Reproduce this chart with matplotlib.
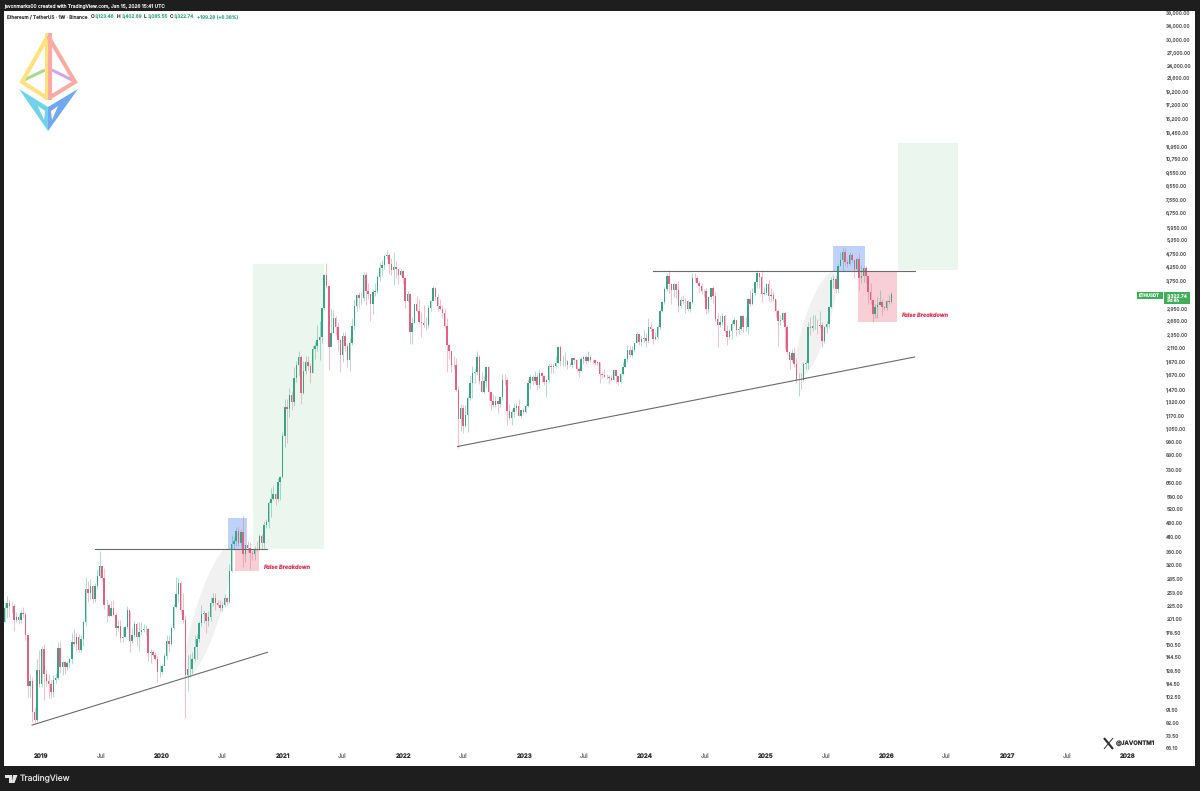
# IMPORTS
import numpy as np
import pandas as pd
import matplotlib
matplotlib.use('Agg')
import matplotlib.pyplot as plt
import matplotlib.dates as mdates
from matplotlib.patches import Ellipse, Polygon, Rectangle
from matplotlib.transforms import Affine2D, IdentityTransform

plt.rcParams['font.family'] = ['Inter', 'DejaVu Sans']
# the labels are tiny, hinting breaks the digits
plt.rcParams['text.hinting'] = 'no_hinting'
plt.rcParams['text.hinting_factor'] = 1

# weekly candles, ETHUSDT, one row = ten weeks, first week is 2018-09-10
first_week = '2018-09-10'
first_open = 197

closes = [
    222, 232, 225, 226, 200, 205, 200, 212, 210, 175,
    113, 118, 90, 84, 130, 115, 155, 125, 118, 115,
    107, 119, 121, 157, 133, 139, 133, 138, 142, 165,
    162, 172, 154, 169, 197, 262, 252, 268, 240, 268,
    293, 318, 288, 227, 228, 206, 222, 208, 186, 190,
    171, 172, 188, 217, 166, 176, 193, 172, 180, 183,
    184, 184, 150, 151, 148, 142, 127, 127, 134, 146,
    167, 162, 187, 223, 249, 274, 218, 200, 124, 131,
    131, 143, 158, 170, 194, 211, 212, 198, 205, 231,
    242, 232, 228, 221, 227, 241, 233, 305, 386, 395,
    432, 387, 428, 353, 380, 371, 355, 353, 370, 365,
    414, 388, 454, 464, 550, 570, 595, 568, 655, 685,
    975, 1260, 1230, 1390, 1310, 1610, 1800, 1930, 1420, 1720,
    1850, 1790, 1690, 2070, 2130, 2240, 2300, 2950, 3925, 3580,
    2100, 2380, 2710, 2510, 2245, 1975, 2320, 2130, 1890, 2190,
    2530, 3010, 3310, 3225, 3225, 3940, 3410, 3330, 3060, 3380,
    3410, 3850, 4170, 4290, 4620, 4650, 4320, 4090, 4200, 4130,
    3920, 4065, 3830, 3150, 3330, 2400, 2600, 3050, 2870, 2620,
    2600, 2550, 2560, 2950, 3140, 3520, 3260, 3000, 2920, 2830,
    2520, 2140, 2040, 1810, 1800, 1450, 1130, 1240, 1070, 1170,
    1355, 1550, 1680, 1700, 1935, 1575, 1430, 1575, 1780, 1430,
    1320, 1280, 1320, 1290, 1370, 1590, 1580, 1215, 1140, 1205,
    1240, 1265, 1165, 1220, 1200, 1265, 1550, 1630, 1570, 1630,
    1515, 1685, 1640, 1565, 1580, 1790, 1780, 1795, 1830, 2105,
    1865, 1870, 1875, 1800, 1810, 1910, 1890, 1750, 1720, 1905,
    1930, 1865, 1930, 1890, 1880, 1835, 1850, 1665, 1650, 1630,
    1630, 1620, 1590, 1730, 1635, 1555, 1665, 1780, 1895, 2050,
    1960, 2060, 2190, 2350, 2195, 2265, 2280, 2220, 2510, 2455,
    2265, 2290, 2505, 2880, 3110, 3490, 3890, 3640, 3450, 3645,
    3450, 3010, 3160, 3130, 3140, 2930, 3120, 3825, 3810, 3680,
    3560, 3420, 3430, 2930, 3245, 3510, 3270, 2690, 2555, 2610,
    2745, 2425, 2295, 2415, 2580, 2660, 2440, 2470, 2750, 2510,
    2510, 3180, 3070, 3360, 3700, 4000, 3875, 3330, 3350, 3630,
    3270, 3310, 3180, 2880, 2630, 2660, 2820, 2510, 2020, 1890,
    2000, 1820, 1580, 1590, 1580, 1820, 1840, 2510, 2480, 2530,
    2530, 2520, 2540, 2230, 2500, 2570, 2970, 3760, 3790, 3490,
    4260, 4470, 4780, 4390, 4310, 4670, 4460, 4140, 4510, 3830,
    3890, 4160, 3880, 3400, 3160, 2800, 2990, 3040, 3110, 2980,
    2950, 3140, 3123.46, 3322.74,
]
highs = [
    232, 245, 240, 234, 230, 214, 211, 218, 224, 214,
    176, 125, 122, 94, 142, 154, 160, 162, 130, 125,
    119, 124, 126, 165, 167, 140, 140, 140, 144, 178,
    185, 178, 177, 176, 200, 289, 280, 285, 269, 276,
    311, 362, 318, 313, 240, 232, 236, 238, 213, 200,
    199, 188, 190, 225, 216, 186, 198, 197, 197, 197,
    193, 192, 186, 156, 154, 151, 146, 135, 136, 150,
    176, 175, 190, 229, 289, 288, 280, 252, 208, 147,
    149, 152, 175, 177, 198, 227, 218, 206, 215, 243,
    253, 252, 238, 238, 233, 250, 243, 325, 416, 410,
    446, 445, 439, 488, 385, 396, 390, 363, 378, 395,
    420, 420, 468, 476, 560, 623, 635, 600, 680, 690,
    1010, 1350, 1350, 1475, 1440, 1770, 1875, 2040, 1970, 1870,
    1945, 1950, 1830, 2150, 2200, 2545, 2645, 2950, 3950, 4372,
    3590, 2920, 2890, 2750, 2620, 2280, 2410, 2410, 2190, 2280,
    2700, 3180, 3330, 3400, 3380, 4025, 4030, 3680, 3200, 3490,
    3680, 3970, 4375, 4460, 4670, 4868, 4760, 4550, 4780, 4420,
    4060, 4150, 4100, 3850, 3420, 3370, 2730, 3070, 3280, 3200,
    2850, 3040, 2730, 3040, 3170, 3580, 3550, 3320, 3180, 3030,
    2960, 2720, 2160, 2040, 1950, 1920, 1500, 1290, 1280, 1280,
    1380, 1650, 1790, 1750, 2030, 1960, 1700, 1650, 1790, 1790,
    1390, 1400, 1380, 1340, 1380, 1670, 1670, 1620, 1290, 1230,
    1300, 1300, 1350, 1230, 1245, 1290, 1600, 1675, 1650, 1720,
    1680, 1740, 1700, 1660, 1605, 1840, 1830, 1835, 1945, 2120,
    2140, 1960, 2020, 1880, 1850, 1920, 1930, 1900, 1780, 1930,
    1950, 1970, 2030, 1960, 1900, 1880, 1870, 1855, 1700, 1745,
    1670, 1660, 1660, 1750, 1750, 1640, 1680, 1860, 1910, 2140,
    2130, 2130, 2190, 2400, 2300, 2340, 2450, 2380, 2715, 2610,
    2465, 2400, 2540, 2890, 3130, 3530, 3990, 4090, 3670, 3680,
    3680, 3730, 3280, 3290, 3220, 3160, 3140, 3980, 3980, 3890,
    3720, 3650, 3490, 3520, 3250, 3520, 3560, 3400, 2820, 2780,
    2820, 2770, 2550, 2460, 2670, 2730, 2670, 2520, 2770, 2770,
    2730, 3230, 3450, 3500, 3740, 4090, 4010, 4110, 3550, 3670,
    3750, 3520, 3430, 3160, 2930, 2790, 2850, 2850, 2550, 1960,
    2070, 2100, 1920, 1690, 1690, 1860, 1880, 2620, 2740, 2790,
    2790, 2680, 2880, 2620, 2520, 2630, 3000, 3860, 3940, 3940,
    4330, 4790, 4950, 4950, 4490, 4770, 4760, 4460, 4590, 4760,
    4290, 4250, 4250, 3900, 3650, 3200, 3060, 3240, 3450, 3180,
    3010, 3160, 3310, 3402.69,
]
lows = [
    196, 203, 205, 212, 182, 196, 193, 195, 205, 168,
    102, 103, 83, 82, 83, 112, 113, 100, 113, 102,
    102, 103, 116, 120, 126, 124, 125, 130, 133, 137,
    160, 153, 151, 152, 160, 190, 233, 240, 231, 233,
    261, 288, 279, 220, 197, 205, 207, 207, 174, 181,
    165, 165, 172, 184, 152, 164, 172, 160, 153, 175,
    180, 176, 140, 138, 146, 141, 117, 122, 125, 135,
    142, 152, 160, 185, 222, 234, 210, 195, 86, 108,
    122, 125, 140, 142, 165, 190, 195, 178, 190, 198,
    225, 217, 226, 215, 216, 224, 228, 232, 302, 365,
    378, 377, 375, 316, 330, 358, 310, 336, 335, 362,
    366, 373, 373, 443, 443, 487, 562, 537, 560, 565,
    680, 890, 920, 1150, 1220, 1270, 1565, 1640, 1290, 1410,
    1670, 1730, 1550, 1680, 1900, 2040, 1890, 2190, 2900, 3500,
    1730, 2160, 2370, 2330, 2040, 1700, 1850, 2040, 1780, 1720,
    2150, 2450, 2880, 2950, 3060, 3150, 3030, 3200, 2650, 2800,
    3280, 3370, 3720, 3890, 4140, 4500, 3950, 3910, 3600, 3830,
    3640, 3880, 3630, 2960, 3100, 2160, 2160, 2590, 2850, 2600,
    2300, 2500, 2450, 2480, 2880, 3220, 3160, 2880, 2890, 2710,
    2480, 1700, 1900, 1700, 1750, 1440, 880, 1020, 1000, 1060,
    1010, 1340, 1360, 1550, 1660, 1530, 1430, 1420, 1490, 1340,
    1220, 1255, 1260, 1190, 1260, 1340, 1520, 1075, 1130, 1075,
    1150, 1215, 1160, 1145, 1190, 1190, 1260, 1470, 1520, 1540,
    1450, 1485, 1560, 1520, 1370, 1560, 1680, 1680, 1765, 1820,
    1790, 1790, 1790, 1740, 1790, 1760, 1820, 1720, 1625, 1710,
    1820, 1820, 1850, 1860, 1815, 1810, 1810, 1550, 1620, 1630,
    1605, 1530, 1570, 1580, 1540, 1520, 1550, 1650, 1770, 1860,
    1930, 1930, 2020, 2180, 2150, 2120, 2210, 2100, 2180, 2415,
    2170, 2240, 2280, 2470, 2860, 3060, 3420, 3360, 3060, 3250,
    3210, 2850, 2950, 3060, 2820, 2870, 2860, 3060, 3700, 3650,
    3360, 3330, 3240, 2810, 2820, 3190, 3080, 2630, 2110, 2510,
    2550, 2400, 2150, 2260, 2260, 2540, 2310, 2350, 2440, 2400,
    2430, 2350, 3000, 3040, 3300, 3500, 3520, 3110, 3300, 3300,
    3150, 3100, 3140, 2730, 2125, 2540, 2610, 2080, 1990, 1750,
    1860, 1780, 1540, 1385, 1470, 1570, 1740, 1750, 2330, 2420,
    2470, 2360, 2490, 2110, 2180, 2370, 2490, 2950, 3510, 3350,
    3350, 4260, 4060, 4270, 4220, 4270, 4410, 3820, 4070, 3440,
    3680, 3700, 3680, 3060, 3050, 2620, 2720, 2720, 3030, 2780,
    2890, 2900, 3060, 3085.55,
]

# price scale labels (3,350 is hidden by the price tag on the original)
y_ticks = [38000, 34000, 30000, 27000, 24000, 21600, 19200, 17200, 15200, 13450,
           11950, 10750, 9550, 8550, 7550, 6750, 5950, 5350, 4750, 4250, 3750,
           2950, 2650, 2350, 2110, 1870, 1670, 1470, 1320, 1170, 1050, 930, 830,
           730, 650, 580, 520, 460, 410, 360, 320, 285, 253, 225, 201, 178.5,
           160.5, 144.5, 128.5, 114.5, 102.5, 91.5, 82, 73.5, 66.1]
years = [2019, 2020, 2021, 2022, 2023, 2024, 2025, 2026, 2027, 2028]

# drawings on the chart: start, end, low, high
green_zones = [('2020-10-03', '2021-05-06', 370, 4330), ('2026-02-05', '2026-08-03', 4110, 12270)]
blue_zones = [('2020-07-18', '2020-09-15', 370, 483), ('2025-07-23', '2025-10-26', 4080, 5040)]
red_zones = [('2020-08-08', '2020-10-21', 304, 370), ('2025-10-07', '2026-02-02', 2616, 4080)]
trend_lines = [('2018-12-05', '2020-11-15', 80.6, 151), ('2022-06-13', '2026-03-26', 893, 1934),
               ('2019-06-13', '2020-11-15', 370, 370), ('2024-01-25', '2026-03-26', 4081, 4081)]
false_breaks = [('2020-11-03', 315), ('2026-02-14', 2781)]

UP = '#35a585'
DOWN = '#e5607f'

df = pd.DataFrame({'close': closes, 'high': highs, 'low': lows})
df['open'] = [first_open] + closes[:-1]
df['date'] = pd.date_range(first_week, periods=len(df), freq='7D') + pd.Timedelta(days=3)

fig = plt.figure(figsize=(12, 7.91), dpi=100, facecolor='#1e1e1e')
ax = fig.add_axes([4 / 1200, 25 / 791, 1191 / 1200, 755 / 791], facecolor='white')
ax.set_yscale('log')
ax.set_xlim(pd.Timestamp('2018-09-11'), pd.Timestamp('2028-07-21'))
ax.set_ylim(56.6, 38370)
for s in ax.spines.values():
    s.set_visible(False)


# everything that is not data is placed in picture pixels, y down from the top
def px(x, y):
    return x, 791 - y


# grey swooshes
for cx, cy, length in [(208, 612, 134), (816, 325, 110)]:
    ax.add_patch(Ellipse(px(cx, cy), length, 25, angle=72.5, color='#f1f1f1', lw=0,
                         transform=IdentityTransform(), zorder=1))


def zones(items, colour):
    for start, end, lo, hi in items:
        x0, x1 = mdates.date2num(pd.Timestamp(start)), mdates.date2num(pd.Timestamp(end))
        ax.add_patch(Rectangle((x0, lo), x1 - x0, hi - lo, color=colour, lw=0, zorder=1.5))


zones(green_zones, '#ebf6ee')
zones(blue_zones, '#bfd2fb')
zones(red_zones, '#f9cfd6')

# candles
up = df['close'] >= df['open']
for mask, colour in [(up, UP), (~up, DOWN)]:
    d = df[mask]
    ax.vlines(d['date'], d['low'], d['high'], color=colour, lw=0.55, alpha=0.5, zorder=3)
    ax.bar(d['date'], (d['close'] - d['open']).abs(), bottom=d[['open', 'close']].min(axis=1),
           width=4.4, color=colour, lw=0, zorder=3.2)

for start, end, p0, p1 in trend_lines:
    ax.plot([pd.Timestamp(start), pd.Timestamp(end)], [p0, p1], color='#6a6a6a', lw=0.8, zorder=4)

for when, price in false_breaks:
    ax.text(pd.Timestamp(when), price, 'False Breakdown', color='#dc3a5c', fontsize=4.0,
            fontweight='bold', style='italic', ha='left', va='center', zorder=5)

# axes
ax.yaxis.tick_right()
ax.set_yticks(y_ticks)
ax.set_yticklabels(['{:,.2f}'.format(v) for v in y_ticks])
ax.yaxis.set_minor_locator(plt.NullLocator())
ax.tick_params(axis='y', length=0, pad=-20.6, labelsize=3.55, labelcolor='#5c5c5c')
for lab in ax.get_yticklabels():
    lab.set_horizontalalignment('left')

x_pos, x_lab = [], []
for y in years:
    x_pos.append(pd.Timestamp(f'{y}-01-01'))
    x_lab.append(str(y))
    if y < 2028:
        x_pos.append(pd.Timestamp(f'{y}-07-01'))
        x_lab.append('Jul')
ax.set_xticks(x_pos)
ax.set_xticklabels(x_lab)
ax.tick_params(axis='x', length=0, pad=-9.5, labelsize=4.4, labelcolor='#333333')
for lab in ax.get_xticklabels():
    if lab.get_text() == 'Jul':
        lab.set_color('#777777')
    else:
        lab.set_fontweight('bold')


def tx(x, y, s, **kw):
    fig.text(x / 1200, 1 - y / 791, s, va='center', **kw)


# header
tx(4.5, 6.3, 'javonmarks00 created with TradingView.com, Jan 15, 2026 15:41 UTC', color='#e8e8e8', fontsize=3.5)
tx(7, 17, 'Ethereum / TetherUS · 1W · Binance', color='#333333', fontsize=3.45)
for x, letter, x2, value in [(91, 'O', 95, '3,123.46'), (117, 'H', 121.5, '3,402.69'),
                             (144, 'L', 147.5, '3,085.55'), (170, 'C', 174, '3,322.74')]:
    tx(x, 17, letter, color='#333333', fontsize=3.45)
    tx(x2, 17, value, color='#35a585', fontsize=3.45)
tx(197, 17, '+199.28 (+6.38%)', color='#35a585', fontsize=3.45)

# price tag on the scale
for x0, y0, w, h in [(1137, 292, 26, 6.5), (1164, 292, 26, 12)]:
    ax.add_patch(Rectangle(px(x0, y0 + h), w, h, color='#3fae57', lw=0,
                           transform=IdentityTransform(), zorder=6))
tx(1138.5, 295.3, 'ETHUSDT', color='white', fontsize=3.2, zorder=7)
tx(1167, 295.3, '3,322.74', color='white', fontsize=3.55, zorder=7)
tx(1167, 301, '3d 8h', color='white', fontsize=3.2, zorder=7)

# logo, drawn in pixels
def logo_line(points, colour, lw=2.9):
    xs, ys = zip(*[px(a, b) for a, b in points])
    ax.plot(xs, ys, color=colour, lw=lw, transform=IdentityTransform(), zorder=6,
            solid_capstyle='butt', solid_joinstyle='miter', clip_on=False)


def logo_poly(points, colour):
    ax.add_patch(Polygon([px(a, b) for a, b in points], closed=True, color=colour, lw=0,
                         transform=IdentityTransform(), zorder=6, clip_on=False))


logo_line([(24, 80), (45, 70)], '#a8da8e', 2.2)
logo_line([(52, 70), (74, 81)], '#cfa8e8', 2.2)
logo_line([(48, 36), (22, 82), (47, 98)], '#ffe27c')
logo_line([(46.5, 33), (46.5, 100)], '#ffe27c')
logo_line([(49.5, 33), (49.5, 100)], '#fcaaa2')
logo_line([(48, 36), (75, 82), (49, 98)], '#fcaaa2')
logo_poly([(19, 89), (48, 107), (48, 131)], '#70d3ea')
logo_poly([(78, 89), (48, 107), (48, 131)], '#6fa8ee')
logo_poly([(38, 106), (45, 111), (44, 120)], 'white')
logo_poly([(58, 106), (51, 111), (52, 120)], 'white')

# footer
logo_poly([(5, 775), (12, 775), (12, 783), (8.5, 783), (8.5, 778), (5, 778)], '#e4e4e4')
logo_poly([(13, 775), (17.5, 775), (14.5, 783), (11.8, 783)], '#e4e4e4')
tx(20, 779, 'TradingView', color='#dddddd', fontsize=6.1)

# X handle
logo_line([(1104, 738), (1113, 749)], '#333333', 1.6)
logo_line([(1113, 738), (1104, 749)], '#333333', 0.7)
tx(1116, 743, '@JAVONTM1', color='#333333', fontsize=4.25, fontweight='bold', zorder=7)

fig.savefig('out.png', dpi=100, facecolor=fig.get_facecolor())
